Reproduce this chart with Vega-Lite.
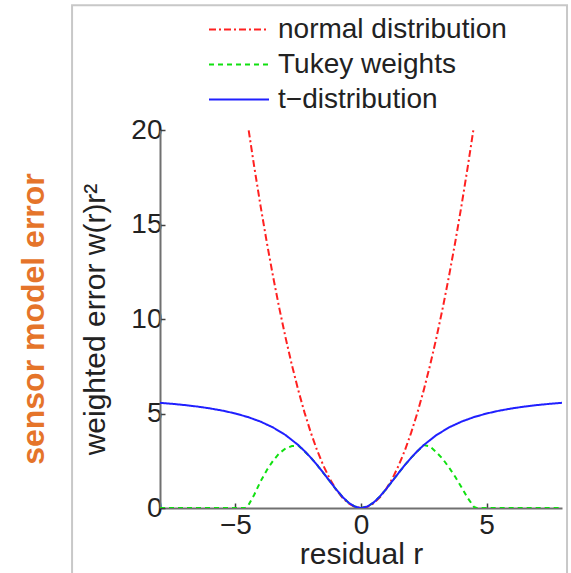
{
  "$schema": "https://vega.github.io/schema/vega-lite/v6.json",
  "autosize": "none",
  "padding": {"left": 160, "top": 130, "right": 9, "bottom": 65},
  "width": 402,
  "height": 378,
  "background": "white",
  "config": {
    "view": {"stroke": null},
    "font": "Liberation Sans"
  },
  "title": {
    "text": "sensor model error",
    "orient": "left",
    "anchor": "middle",
    "fontSize": 32,
    "fontWeight": "bold",
    "color": "#E5742A",
    "font": "Liberation Sans",
    "offset": 20
  },
  "datasets": {
    "curves": [
      {"s": "normal distribution", "r": -4.47, "y": 19.98},
      {"s": "normal distribution", "r": -4.25, "y": 18.06},
      {"s": "normal distribution", "r": -4.0, "y": 16.0},
      {"s": "normal distribution", "r": -3.75, "y": 14.06},
      {"s": "normal distribution", "r": -3.5, "y": 12.25},
      {"s": "normal distribution", "r": -3.25, "y": 10.56},
      {"s": "normal distribution", "r": -3.0, "y": 9.0},
      {"s": "normal distribution", "r": -2.75, "y": 7.56},
      {"s": "normal distribution", "r": -2.5, "y": 6.25},
      {"s": "normal distribution", "r": -2.25, "y": 5.06},
      {"s": "normal distribution", "r": -2.0, "y": 4.0},
      {"s": "normal distribution", "r": -1.75, "y": 3.06},
      {"s": "normal distribution", "r": -1.5, "y": 2.25},
      {"s": "normal distribution", "r": -1.25, "y": 1.56},
      {"s": "normal distribution", "r": -1.0, "y": 1.0},
      {"s": "normal distribution", "r": -0.75, "y": 0.56},
      {"s": "normal distribution", "r": -0.5, "y": 0.25},
      {"s": "normal distribution", "r": -0.25, "y": 0.06},
      {"s": "normal distribution", "r": 0, "y": 0},
      {"s": "normal distribution", "r": 0.25, "y": 0.06},
      {"s": "normal distribution", "r": 0.5, "y": 0.25},
      {"s": "normal distribution", "r": 0.75, "y": 0.56},
      {"s": "normal distribution", "r": 1.0, "y": 1.0},
      {"s": "normal distribution", "r": 1.25, "y": 1.56},
      {"s": "normal distribution", "r": 1.5, "y": 2.25},
      {"s": "normal distribution", "r": 1.75, "y": 3.06},
      {"s": "normal distribution", "r": 2.0, "y": 4.0},
      {"s": "normal distribution", "r": 2.25, "y": 5.06},
      {"s": "normal distribution", "r": 2.5, "y": 6.25},
      {"s": "normal distribution", "r": 2.75, "y": 7.56},
      {"s": "normal distribution", "r": 3.0, "y": 9.0},
      {"s": "normal distribution", "r": 3.25, "y": 10.56},
      {"s": "normal distribution", "r": 3.5, "y": 12.25},
      {"s": "normal distribution", "r": 3.75, "y": 14.06},
      {"s": "normal distribution", "r": 4.0, "y": 16.0},
      {"s": "normal distribution", "r": 4.25, "y": 18.06},
      {"s": "normal distribution", "r": 4.47, "y": 19.98},

      {"s": "Tukey weights", "r": -8, "y": 0},
      {"s": "Tukey weights", "r": -4.6, "y": 0},
      {"s": "Tukey weights", "r": -4.5, "y": 0.1},
      {"s": "Tukey weights", "r": -4.25, "y": 0.7},
      {"s": "Tukey weights", "r": -4.0, "y": 1.4},
      {"s": "Tukey weights", "r": -3.75, "y": 2.0},
      {"s": "Tukey weights", "r": -3.5, "y": 2.5},
      {"s": "Tukey weights", "r": -3.25, "y": 2.9},
      {"s": "Tukey weights", "r": -3.0, "y": 3.15},
      {"s": "Tukey weights", "r": -2.75, "y": 3.28},
      {"s": "Tukey weights", "r": -2.5, "y": 3.3},
      {"s": "Tukey weights", "r": -2.25, "y": 3.0},
      {"s": "Tukey weights", "r": -2.0, "y": 2.667},
      {"s": "Tukey weights", "r": -1.75, "y": 2.279},
      {"s": "Tukey weights", "r": -1.5, "y": 1.862},
      {"s": "Tukey weights", "r": -1.25, "y": 1.429},
      {"s": "Tukey weights", "r": -1.0, "y": 1.0},
      {"s": "Tukey weights", "r": -0.75, "y": 0.607},
      {"s": "Tukey weights", "r": -0.5, "y": 0.286},
      {"s": "Tukey weights", "r": -0.25, "y": 0.074},
      {"s": "Tukey weights", "r": 0, "y": 0},
      {"s": "Tukey weights", "r": 0.25, "y": 0.074},
      {"s": "Tukey weights", "r": 0.5, "y": 0.286},
      {"s": "Tukey weights", "r": 0.75, "y": 0.607},
      {"s": "Tukey weights", "r": 1.0, "y": 1.0},
      {"s": "Tukey weights", "r": 1.25, "y": 1.429},
      {"s": "Tukey weights", "r": 1.5, "y": 1.862},
      {"s": "Tukey weights", "r": 1.75, "y": 2.279},
      {"s": "Tukey weights", "r": 2.0, "y": 2.667},
      {"s": "Tukey weights", "r": 2.25, "y": 3.0},
      {"s": "Tukey weights", "r": 2.5, "y": 3.33},
      {"s": "Tukey weights", "r": 2.75, "y": 3.25},
      {"s": "Tukey weights", "r": 3.0, "y": 2.95},
      {"s": "Tukey weights", "r": 3.25, "y": 2.6},
      {"s": "Tukey weights", "r": 3.5, "y": 2.15},
      {"s": "Tukey weights", "r": 3.75, "y": 1.65},
      {"s": "Tukey weights", "r": 4.0, "y": 1.1},
      {"s": "Tukey weights", "r": 4.25, "y": 0.52},
      {"s": "Tukey weights", "r": 4.5, "y": 0.05},
      {"s": "Tukey weights", "r": 4.6, "y": 0},
      {"s": "Tukey weights", "r": 8, "y": 0},

      {"s": "t\u2212distribution", "r": -8, "y": 5.565},
      {"s": "t\u2212distribution", "r": -7.5, "y": 5.51},
      {"s": "t\u2212distribution", "r": -7, "y": 5.444},
      {"s": "t\u2212distribution", "r": -6.5, "y": 5.365},
      {"s": "t\u2212distribution", "r": -6, "y": 5.268},
      {"s": "t\u2212distribution", "r": -5.5, "y": 5.149},
      {"s": "t\u2212distribution", "r": -5, "y": 5.0},
      {"s": "t\u2212distribution", "r": -4.5, "y": 4.812},
      {"s": "t\u2212distribution", "r": -4, "y": 4.571},
      {"s": "t\u2212distribution", "r": -3.5, "y": 4.261},
      {"s": "t\u2212distribution", "r": -3, "y": 3.857},
      {"s": "t\u2212distribution", "r": -2.5, "y": 3.333},
      {"s": "t\u2212distribution", "r": -2.25, "y": 3.019},
      {"s": "t\u2212distribution", "r": -2, "y": 2.667},
      {"s": "t\u2212distribution", "r": -1.75, "y": 2.279},
      {"s": "t\u2212distribution", "r": -1.5, "y": 1.862},
      {"s": "t\u2212distribution", "r": -1.25, "y": 1.429},
      {"s": "t\u2212distribution", "r": -1, "y": 1.0},
      {"s": "t\u2212distribution", "r": -0.75, "y": 0.607},
      {"s": "t\u2212distribution", "r": -0.5, "y": 0.286},
      {"s": "t\u2212distribution", "r": -0.25, "y": 0.074},
      {"s": "t\u2212distribution", "r": 0, "y": 0},
      {"s": "t\u2212distribution", "r": 0.25, "y": 0.074},
      {"s": "t\u2212distribution", "r": 0.5, "y": 0.286},
      {"s": "t\u2212distribution", "r": 0.75, "y": 0.607},
      {"s": "t\u2212distribution", "r": 1, "y": 1.0},
      {"s": "t\u2212distribution", "r": 1.25, "y": 1.429},
      {"s": "t\u2212distribution", "r": 1.5, "y": 1.862},
      {"s": "t\u2212distribution", "r": 1.75, "y": 2.279},
      {"s": "t\u2212distribution", "r": 2, "y": 2.667},
      {"s": "t\u2212distribution", "r": 2.25, "y": 3.019},
      {"s": "t\u2212distribution", "r": 2.5, "y": 3.333},
      {"s": "t\u2212distribution", "r": 3, "y": 3.857},
      {"s": "t\u2212distribution", "r": 3.5, "y": 4.261},
      {"s": "t\u2212distribution", "r": 4, "y": 4.571},
      {"s": "t\u2212distribution", "r": 4.5, "y": 4.812},
      {"s": "t\u2212distribution", "r": 5, "y": 5.0},
      {"s": "t\u2212distribution", "r": 5.5, "y": 5.149},
      {"s": "t\u2212distribution", "r": 6, "y": 5.268},
      {"s": "t\u2212distribution", "r": 6.5, "y": 5.365},
      {"s": "t\u2212distribution", "r": 7, "y": 5.444},
      {"s": "t\u2212distribution", "r": 7.5, "y": 5.51},
      {"s": "t\u2212distribution", "r": 8, "y": 5.565}
    ]
  },
  "layer": [
    {
      "data": {"values": [{}]},
      "mark": {"type": "rect", "filled": false, "stroke": "#c8c8c8", "strokeWidth": 2, "clip": false},
      "encoding": {
        "x": {"datum": -11.5, "type": "quantitative", "scale": {"domain": [-8, 8], "nice": false, "zero": false}},
        "x2": {"datum": 8.2},
        "y": {"datum": 26.6, "type": "quantitative", "scale": {"domain": [0, 20], "nice": false}},
        "y2": {"datum": -5}
      }
    },
    {
      "data": {"name": "curves"},
      "mark": {"type": "line", "strokeWidth": 2, "clip": true},
      "encoding": {
        "x": {
          "field": "r", "type": "quantitative",
          "scale": {"domain": [-8, 8], "nice": false, "zero": false},
          "axis": {
            "values": [-5, 0, 5],
            "title": "residual r",
            "grid": false,
            "domainColor": "#707070", "domainWidth": 2,
            "tickColor": "#404040", "tickSize": -5, "tickWidth": 1.5,
            "labelFontSize": 28, "labelColor": "#222222", "labelPadding": 8,
            "labelFont": "Liberation Sans",
            "titleFontSize": 30, "titleFontWeight": "normal", "titleColor": "#222222",
            "titleFont": "Liberation Sans", "titlePadding": 0
          }
        },
        "y": {
          "field": "y", "type": "quantitative",
          "scale": {"domain": [0, 20], "nice": false},
          "axis": {
            "values": [0, 5, 10, 15, 20],
            "title": "weighted error w(r)r\u00b2",
            "grid": false,
            "domainColor": "#707070", "domainWidth": 2,
            "tickColor": "#404040", "tickSize": -5, "tickWidth": 1.5,
            "labelFontSize": 28, "labelColor": "#222222", "labelPadding": 3,
            "labelFont": "Liberation Sans",
            "titleFontSize": 30, "titleFontWeight": "normal", "titleColor": "#222222",
            "titleFont": "Liberation Sans", "titlePadding": 20
          }
        },
        "color": {
          "field": "s", "type": "nominal",
          "scale": {
            "domain": ["normal distribution", "Tukey weights", "t\u2212distribution"],
            "range": ["#ff2020", "#10e010", "#2020ff"]
          },
          "legend": {
            "orient": "none", "legendX": 48, "legendY": -118,
            "title": null,
            "symbolType": "stroke", "symbolSize": 3600, "symbolStrokeWidth": 2,
            "clipHeight": 35, "rowPadding": 0, "labelLimit": 0,
            "labelFontSize": 28, "labelColor": "#222222", "labelFont": "Liberation Sans",
            "labelOffset": 8
          }
        },
        "strokeDash": {
          "field": "s", "type": "nominal",
          "scale": {
            "domain": ["normal distribution", "Tukey weights", "t\u2212distribution"],
            "range": [[7, 3, 2, 3], [5, 4], [1, 0]]
          },
          "legend": {
            "orient": "none", "legendX": 48, "legendY": -118,
            "title": null,
            "symbolType": "stroke", "symbolSize": 3600, "symbolStrokeWidth": 2,
            "clipHeight": 35, "rowPadding": 0, "labelLimit": 0,
            "labelFontSize": 28, "labelColor": "#222222", "labelFont": "Liberation Sans",
            "labelOffset": 8
          }
        }
      }
    }
  ]
}
